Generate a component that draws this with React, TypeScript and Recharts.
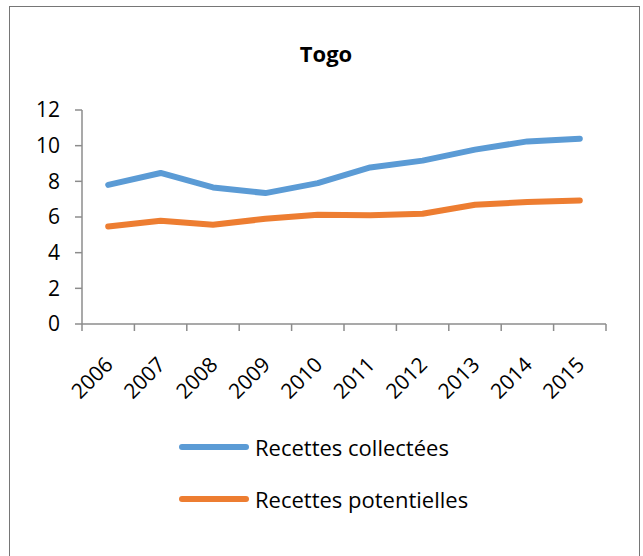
import React from 'react';
import { LineChart, Line, XAxis, YAxis, Legend } from 'recharts';

// Togo – revenue series, 2006–2015
const years = ['2006', '2007', '2008', '2009', '2010', '2011', '2012', '2013', '2014', '2015'];
const collectees = [7.8, 8.47, 7.66, 7.34, 7.9, 8.78, 9.16, 9.78, 10.24, 10.39];
const potentielles = [5.47, 5.79, 5.56, 5.9, 6.12, 6.1, 6.18, 6.69, 6.84, 6.93];
const yTicks = [0, 2, 4, 6, 8, 10, 12];

const SERIES_COLLECTEES = 'Recettes collectées';
const SERIES_POTENTIELLES = 'Recettes potentielles';

const data = years.map((year, i) => ({
  year,
  collectees: collectees[i],
  potentielles: potentielles[i],
}));

// Band boundaries for the category divider ticks (0..n)
const boundaryTicks = Array.from({ length: years.length + 1 }, (_, i) => i);

const FONT = '"Open Sans", "DejaVu Sans", sans-serif';
const AXIS_COLOR = '#8c8c8c';
const BLUE = '#5B9BD5';
const ORANGE = '#ED7D31';

const W = 643;
const H = 556;

const NoLabel = () => <g />;

const YearTick = (props: any) => {
  const { x, y, payload } = props;
  const ax = x + 6;
  const ay = y + 33;
  return (
    <text
      x={ax}
      y={ay}
      textAnchor="end"
      transform={`rotate(-45 ${ax} ${ay})`}
      fontFamily={FONT}
      fontSize={21}
      fill="#000"
    >
      {payload.value}
    </text>
  );
};

const LegendContent = (props: any) => {
  const items = props.payload || [];
  return (
    <div style={{ fontFamily: FONT }}>
      {items.map((item: any, i: number) => (
        <div
          key={i}
          style={{ display: 'flex', alignItems: 'center', height: 52 }}
        >
          <svg width={74} height={10} style={{ display: 'block' }}>
            <line
              x1={4}
              y1={5}
              x2={68}
              y2={5}
              stroke={item.color}
              strokeWidth={6}
              strokeLinecap="round"
            />
          </svg>
          <span style={{ fontSize: 22, color: '#000', marginLeft: 3, whiteSpace: 'nowrap' }}>
            {item.value}
          </span>
        </div>
      ))}
    </div>
  );
};

export default function App() {
  return (
    <div
      style={{
        position: 'absolute',
        left: 0,
        top: 0,
        width: W,
        height: H,
        background: '#fff',
        overflow: 'hidden',
      }}
    >
      <div
        style={{
          position: 'absolute',
          left: 9,
          top: 6,
          width: 631,
          height: 620,
          border: '1px solid #767676',
          boxSizing: 'border-box',
        }}
      />
      <svg
        width={W}
        height={80}
        style={{ position: 'absolute', left: 0, top: 0 }}
      >
        <text
          x={326}
          y={62}
          textAnchor="middle"
          fontFamily={FONT}
          fontWeight="bold"
          fontSize={22}
          fill="#000"
        >
          Togo
        </text>
      </svg>
      <div style={{ position: 'absolute', left: 0, top: 0 }}>
        <LineChart
          width={W}
          height={H}
          data={data}
          margin={{ top: 110, right: 37, bottom: 230, left: 0 }}
        >
          <XAxis
            xAxisId="bands"
            type="number"
            dataKey={() => 0}
            domain={[0, years.length]}
            ticks={boundaryTicks}
            interval={0}
            tick={<NoLabel />}
            tickSize={7}
            axisLine={{ stroke: AXIS_COLOR, strokeWidth: 1.5 }}
            tickLine={{ stroke: AXIS_COLOR, strokeWidth: 1.5 }}
            allowDataOverflow
            height={1}
          />
          <XAxis
            xAxisId="years"
            dataKey="year"
            padding={{ left: 26.2, right: 26.2 }}
            axisLine={false}
            tickLine={false}
            interval={0}
            tick={<YearTick />}
            height={1}
          />
          <YAxis
            domain={[0, 12]}
            ticks={yTicks}
            width={82}
            tickSize={7}
            tickMargin={15}
            interval={0}
            axisLine={{ stroke: AXIS_COLOR, strokeWidth: 1.5 }}
            tickLine={{ stroke: AXIS_COLOR, strokeWidth: 1.5 }}
            tick={{ fill: '#000', fontSize: 21, fontFamily: FONT }}
          />
          <Line
            xAxisId="years"
            type="linear"
            dataKey="collectees"
            name={SERIES_COLLECTEES}
            stroke={BLUE}
            strokeWidth={6}
            strokeLinecap="round"
            strokeLinejoin="round"
            dot={false}
            activeDot={false}
            isAnimationActive={false}
          />
          <Line
            xAxisId="years"
            type="linear"
            dataKey="potentielles"
            name={SERIES_POTENTIELLES}
            stroke={ORANGE}
            strokeWidth={6}
            strokeLinecap="round"
            strokeLinejoin="round"
            dot={false}
            activeDot={false}
            isAnimationActive={false}
          />
          <Legend
            layout="vertical"
            align="center"
            verticalAlign="middle"
            content={<LegendContent />}
            wrapperStyle={{ left: 178, top: 421, width: 340 }}
          />
        </LineChart>
      </div>
    </div>
  );
}
